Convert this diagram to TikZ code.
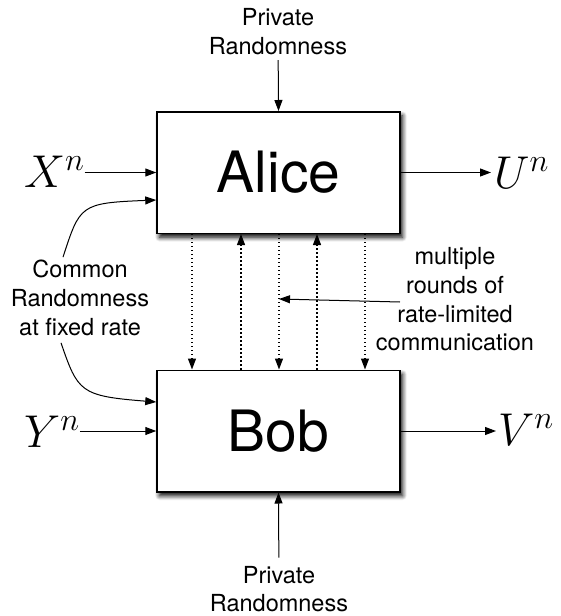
\RequirePackage{fix-cm}
\documentclass[tikz,border=0pt]{standalone}
\usepackage{fontspec}
\setsansfont{TeX Gyre Heros}
\usetikzlibrary{arrows.meta,shadows.blur}
\begin{document}
\begin{tikzpicture}[x=1pt,y=1pt,
  box/.style={draw,line width=1.5pt,fill=white,minimum width=243pt,minimum height=121.5pt,inner sep=0pt,
    font=\sffamily\fontsize{57}{60}\selectfont,
    blur shadow={shadow xshift=2.5pt,shadow yshift=-4pt,shadow blur radius=4.5pt,shadow opacity=100,shadow blur steps=8}},
  lbl/.style={font=\sffamily\fontsize{23.5}{28.7}\selectfont,align=center,inner sep=0pt},
  var/.style={font=\fontsize{46}{50}\selectfont,inner sep=0pt,anchor=base west},
  arr/.style={line width=1pt,-{Triangle[length=11pt,width=8pt]}},
  dots/.style={arr,line width=1.2pt,dash pattern=on 1.4pt off 2.6pt}]
\useasboundingbox (0,0) rectangle (560,-616);
% boxes
\node[box] (alice) at (278.5,-172.5) {Alice};
\node[box] (bob) at (278.5,-431) {Bob};
% labels
\node[lbl] (prA) at (278,-31.9) {Private\\Randomness};
\node[lbl] (prB) at (279,-589) {Private\\Randomness};
\node[lbl] (common) at (80,-298) {Common\\Randomness\\at fixed rate};
\node[lbl] (comm) at (455,-299.5) {multiple\\rounds of\\rate-limited\\communication};
\node[var] (xn) at (24,-187) {$X^n$};
\node[var] (un) at (494,-188) {$U^n$};
\node[var] (yn) at (24,-447) {$Y^n$};
\node[var] (vn) at (498,-445) {$V^n$};
% private randomness
\draw[arr,shorten <=5pt] (prA) -- (alice.north);
\draw[arr,shorten <=8pt] (prB) -- (bob.south);
% inputs / outputs
\draw[arr] (xn.east |- alice.west) -- (alice.west);
\draw[arr,shorten >=3pt] (alice.east) -- (un.west |- alice.east);
\draw[arr] (yn.east |- bob.west) -- (bob.west);
\draw[arr,shorten >=2pt] (bob.east) -- (vn.west |- bob.east);
% common randomness
\draw[arr] ([xshift=-17pt,yshift=3pt]common.north) .. controls (80,-205) and (80,-203) .. ([yshift=-27.5pt]alice.west);
\draw[arr] ([xshift=-19pt,yshift=-7pt]common.south) .. controls (78,-392) and (80,-396) .. ([yshift=29pt]bob.west);
% communication rounds
\coordinate (d1) at (192,0);
\coordinate (d2) at (241,0);
\coordinate (d3) at (279,0);
\coordinate (d4) at (317,0);
\coordinate (d5) at (365,0);
\draw[dots] (alice.south -| d1) -- (bob.north -| d1);
\draw[dots] (bob.north -| d2) -- (alice.south -| d2);
\draw[dots] (alice.south -| d3) -- (bob.north -| d3);
\draw[dots] (bob.north -| d4) -- (alice.south -| d4);
\draw[dots] (alice.south -| d5) -- (bob.north -| d5);
\coordinate (ct) at (400,-302);
\coordinate (ch) at (279,-299);
\draw[arr] (ct) -- (ch);
\end{tikzpicture}
\end{document}
